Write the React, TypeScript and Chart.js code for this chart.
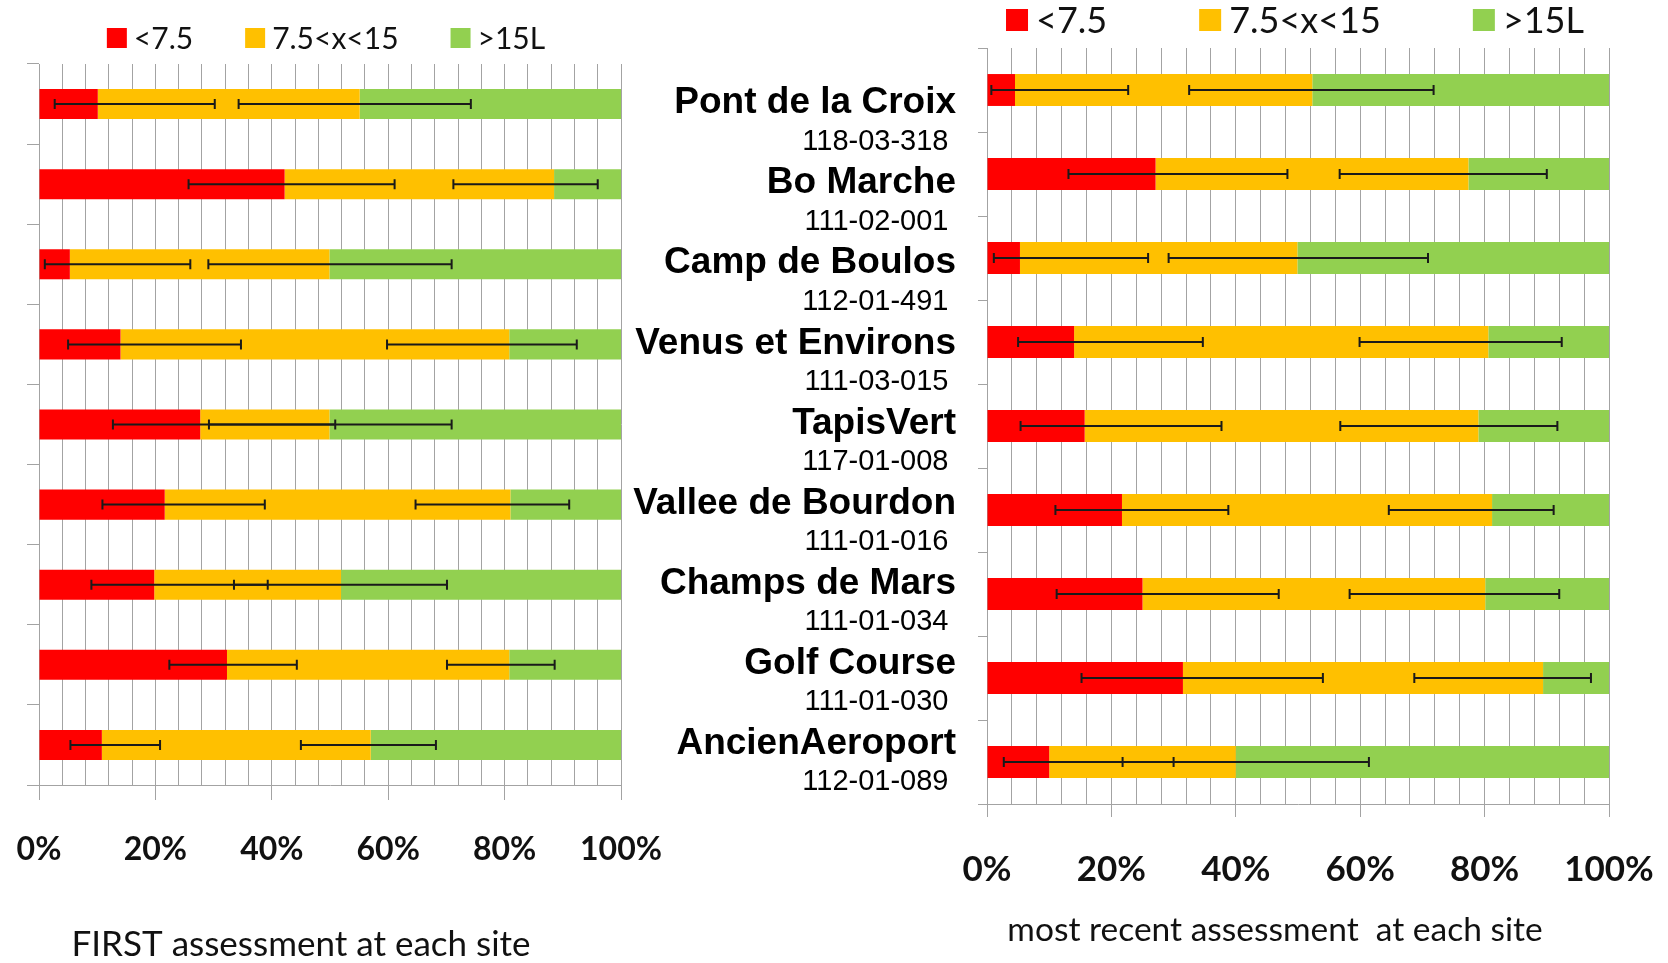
import React, { useEffect, useRef } from "react";
import { Chart, registerables } from "chart.js";

Chart.register(...registerables);

const SITES = ["Pont de la Croix", "Bo Marche", "Camp de Boulos", "Venus et Environs", "TapisVert", "Vallee de Bourdon", "Champs de Mars", "Golf Course", "AncienAeroport"];
const CODES = ["118-03-318", "111-02-001", "112-01-491", "111-03-015", "117-01-008", "111-01-016", "111-01-034", "111-01-030", "112-01-089"];
const SERIES_NAMES = ["<7.5", "7.5<x<15", ">15L"];
const COLORS = ["#FF0000", "#FFC000", "#92D050"];
const X_TICKS = [0, 20, 40, 60, 80, 100];

// FIRST assessment (percent of each class)
const FIRST_LOW = [10.1, 42.2, 5.3, 14.0, 27.7, 21.6, 19.8, 32.3, 10.8];
const FIRST_MID = [45.0, 46.3, 44.6, 66.8, 22.2, 59.4, 32.1, 48.5, 46.2];
const FIRST_HIGH = [44.9, 11.5, 50.1, 19.2, 50.1, 19.0, 48.1, 19.2, 43.0];
const FIRST_ERR_A = [[2.7, 30.2], [25.7, 61.1], [1.0, 26.0], [5.0, 34.7], [12.7, 50.9], [10.9, 38.8], [9.0, 39.3], [22.4, 44.3], [5.4, 20.8]];
const FIRST_ERR_B = [[34.3, 74.2], [71.2, 96.0], [29.1, 70.9], [59.8, 92.4], [29.2, 70.9], [64.7, 91.1], [33.5, 70.1], [70.1, 88.6], [45.0, 68.2]];

// most recent assessment
const RECENT_LOW = [4.5, 27.1, 5.3, 14.0, 15.7, 21.7, 25.0, 31.5, 10.0];
const RECENT_MID = [47.8, 50.3, 44.6, 66.6, 63.3, 59.5, 55.1, 57.9, 30.0];
const RECENT_HIGH = [47.7, 22.6, 50.1, 19.4, 21.0, 18.8, 19.9, 10.6, 60.0];
const RECENT_ERR_A = [[0.7, 22.7], [13.1, 48.3], [1.1, 25.9], [5.0, 34.7], [5.4, 37.7], [11.0, 38.8], [11.2, 46.9], [15.2, 54.0], [2.7, 30.0]];
const RECENT_ERR_B = [[32.5, 71.8], [56.7, 90.0], [29.2, 70.9], [59.9, 92.4], [56.8, 91.7], [64.6, 91.1], [58.3, 92.0], [68.7, 97.1], [21.8, 61.4]];

const W = 1668;
const H = 963;
const GRID = "#a3a3a3";
const LATO = "Lato, 'Open Sans', sans-serif";

const decorPlugin = {
  id: "decor",
  afterDatasetsDraw(chart: any, _args: any, opts: any) {
    const ctx = chart.ctx;
    const xs = chart.scales.x;
    const ys = chart.scales.y;
    ctx.save();
    ctx.strokeStyle = "#1a1a1a";
    ctx.lineWidth = 2;
    (opts.errors || []).forEach((arr: number[][]) => {
      arr.forEach((e, i) => {
        const y = ys.getPixelForValue(i);
        const x1 = xs.getPixelForValue(e[0]);
        const x2 = xs.getPixelForValue(e[1]);
        ctx.beginPath();
        ctx.moveTo(x1, y);
        ctx.lineTo(x2, y);
        ctx.moveTo(x1, y - 5);
        ctx.lineTo(x1, y + 5);
        ctx.moveTo(x2, y - 5);
        ctx.lineTo(x2, y + 5);
        ctx.stroke();
      });
    });
    ctx.restore();
  },
  afterDraw(chart: any, _args: any, opts: any) {
    const ctx = chart.ctx;
    ctx.save();
    const lg = opts.legend;
    if (lg) {
      ctx.font = `${lg.size}px ${LATO}`;
      ctx.textBaseline = "middle";
      const widths = SERIES_NAMES.map((s) => ctx.measureText(s).width);
      const total = widths.reduce((a, b) => a + b, 0) + SERIES_NAMES.length * (lg.box + lg.boxGap) + (SERIES_NAMES.length - 1) * lg.itemGap;
      let x = lg.cx - total / 2;
      SERIES_NAMES.forEach((s, i) => {
        ctx.fillStyle = COLORS[i];
        ctx.fillRect(x, lg.y - lg.box / 2, lg.box, lg.box);
        x += lg.box + lg.boxGap;
        ctx.fillStyle = "#111";
        ctx.textAlign = "left";
        ctx.fillText(s, x, lg.y + 1);
        x += widths[i] + lg.itemGap;
      });
    }
    const t = opts.title;
    if (t) {
      ctx.font = `${t.size}px ${LATO}`;
      ctx.fillStyle = "#111";
      ctx.textAlign = "center";
      ctx.textBaseline = "middle";
      ctx.fillText(t.text, t.cx, t.y);
    }
    const lb = opts.labels;
    if (lb) {
      const ys = chart.scales.y;
      ctx.fillStyle = "#000";
      ctx.textAlign = "right";
      ctx.textBaseline = "middle";
      SITES.forEach((name, i) => {
        const y = ys.getPixelForValue(i);
        ctx.font = `bold ${lb.nameSize}px "Liberation Sans", Arial, sans-serif`;
        ctx.fillText(name, lb.x, y + lb.nameDy);
        ctx.font = `${lb.codeSize}px "Liberation Sans", Arial, sans-serif`;
        ctx.fillText(CODES[i], lb.codeX, y + lb.codeDy);
      });
    }
    ctx.restore();
  },
};

function makeConfig(low: number[], mid: number[], high: number[], geo: any, decor: any) {
  const vals = [low, mid, high];
  return {
    type: "bar",
    data: {
      labels: SITES,
      datasets: vals.map((v, i) => ({
        label: SERIES_NAMES[i],
        data: v,
        backgroundColor: COLORS[i],
        borderWidth: 0,
        barPercentage: geo.barPct,
        categoryPercentage: 1,
      })),
    },
    options: {
      indexAxis: "y",
      responsive: false,
      animation: false,
      devicePixelRatio: 1,
      events: [],
      layout: { padding: { left: geo.padLeft, right: geo.padRight, top: geo.padTop, bottom: geo.padBottom } },
      plugins: {
        legend: { display: false },
        tooltip: { enabled: false },
        decor,
      },
      scales: {
        x: {
          stacked: true,
          min: 0,
          max: 100,
          afterFit: (s: any) => {
            s.height = geo.xHeight;
            s.paddingLeft = 0;
            s.paddingRight = 0;
          },
          afterBuildTicks: (s: any) => {
            const t: any[] = [];
            for (let v = 0; v <= 100; v += 4) t.push({ value: v });
            s.ticks = t;
          },
          ticks: {
            autoSkip: false,
            maxRotation: 0,
            minRotation: 0,
            padding: geo.tickPad,
            color: "#111",
            font: { family: LATO, size: geo.tickSize, weight: "bold" },
            callback: (v: any) => (X_TICKS.includes(Number(v)) ? `${v}%` : ""),
          },
          grid: {
            color: GRID,
            lineWidth: 1,
            drawTicks: true,
            tickLength: geo.xTickLen,
            tickColor: (c: any) => (c.tick && X_TICKS.includes(c.tick.value) ? GRID : "rgba(0,0,0,0)"),
          },
          border: { display: true, color: GRID, width: 1 },
        },
        y: {
          stacked: true,
          afterFit: (s: any) => {
            s.width = geo.yWidth;
            s.paddingTop = 0;
            s.paddingBottom = 0;
          },
          ticks: { display: false },
          grid: { drawOnChartArea: false, drawTicks: true, tickLength: geo.yTickLen, color: GRID, offset: true },
          border: { display: true, color: GRID, width: 1 },
        },
      },
    },
    plugins: [decorPlugin],
  };
}

export default function App() {
  const leftRef = useRef<HTMLCanvasElement>(null);
  const rightRef = useRef<HTMLCanvasElement>(null);

  useEffect(() => {
    const left = new Chart(
      leftRef.current as HTMLCanvasElement,
      makeConfig(
        FIRST_LOW, FIRST_MID, FIRST_HIGH,
        { barPct: 0.375, padLeft: 0, padRight: W - 621, padTop: 64, padBottom: H - 785 - 110, xHeight: 110, yWidth: 39, tickPad: 30, tickSize: 32, xTickLen: 15, yTickLen: 12 },
        {
          errors: [FIRST_ERR_A, FIRST_ERR_B],
          legend: { cx: 326, y: 38, size: 30, box: 20, boxGap: 7, itemGap: 52 },
          title: { text: "FIRST assessment at each site", cx: 301, y: 945, size: 35 },
          labels: { x: 956, codeX: 948.5, nameSize: 37, codeSize: 29, nameDy: -1, codeDy: 37.5 },
        }
      ) as any
    );
    const right = new Chart(
      rightRef.current as HTMLCanvasElement,
      makeConfig(
        RECENT_LOW, RECENT_MID, RECENT_HIGH,
        { barPct: 0.38, padLeft: 965, padRight: W - 1609, padTop: 48, padBottom: H - 804 - 110, xHeight: 110, yWidth: 22, tickPad: 32, tickSize: 35, xTickLen: 13, yTickLen: 9 },
        {
          errors: [RECENT_ERR_A, RECENT_ERR_B],
          legend: { cx: 1295, y: 20, size: 36, box: 22, boxGap: 8, itemGap: 92 },
          title: { text: "most recent assessment  at each site", cx: 1275, y: 930, size: 33.5 },
        }
      ) as any
    );
    return () => {
      left.destroy();
      right.destroy();
    };
  }, []);

  const cs: React.CSSProperties = { position: "absolute", left: 0, top: 0, width: W, height: H };
  return (
    <div style={{ position: "absolute", left: 0, top: 0, width: W, height: H, background: "#fff" }}>
      <canvas ref={leftRef} width={W} height={H} style={cs} />
      <canvas ref={rightRef} width={W} height={H} style={cs} />
    </div>
  );
}
